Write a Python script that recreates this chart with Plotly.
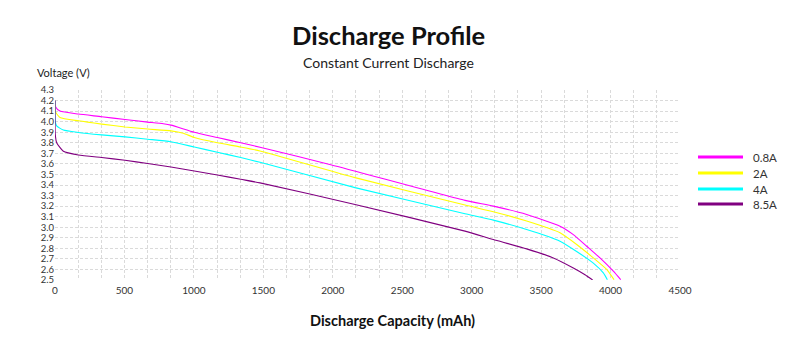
import plotly.graph_objects as go

series_names = ["0.8A", "2A", "4A", "8.5A"]
series_colors = ["#FF00FF", "#FFFF00", "#00FFFF", "#800080"]

cap_08 = [0, 5, 36, 168, 336, 504, 667, 780, 835, 1003, 1169, 1337, 1476, 1992, 2952, 3156, 3396, 3636, 3732, 3828, 3924, 4020, 4073]
volt_08 = [4.20, 4.14, 4.10, 4.072, 4.047, 4.02, 3.996, 3.98, 3.967, 3.90, 3.85, 3.80, 3.758, 3.59, 3.254, 3.20, 3.121, 3.01, 2.93, 2.82, 2.709, 2.583, 2.503]

cap_2 = [0, 5, 36, 168, 336, 504, 667, 835, 924, 1003, 1169, 1337, 1476, 2160, 2952, 3156, 3396, 3636, 3756, 3876, 3972, 4025]
volt_2 = [4.20, 4.09, 4.04, 4.008, 3.977, 3.95, 3.93, 3.913, 3.89, 3.85, 3.80, 3.76, 3.723, 3.47, 3.21, 3.147, 3.058, 2.947, 2.836, 2.709, 2.60, 2.503]

cap_4 = [0, 2, 12, 60, 168, 336, 504, 667, 835, 1003, 1169, 1337, 1476, 2160, 2952, 3156, 3396, 3636, 3756, 3876, 3948, 3977]
volt_4 = [4.20, 4.00, 3.96, 3.92, 3.898, 3.875, 3.856, 3.834, 3.81, 3.76, 3.71, 3.66, 3.615, 3.375, 3.128, 3.067, 2.978, 2.868, 2.77, 2.66, 2.567, 2.503]

cap_85 = [0, 2, 12, 60, 168, 336, 504, 667, 835, 1003, 1169, 1337, 1476, 2160, 2952, 3156, 3396, 3588, 3732, 3816, 3871]
volt_85 = [4.20, 3.88, 3.80, 3.72, 3.685, 3.66, 3.635, 3.603, 3.571, 3.533, 3.495, 3.454, 3.42, 3.216, 2.963, 2.884, 2.795, 2.709, 2.614, 2.55, 2.50]

caps = [cap_08, cap_2, cap_4, cap_85]
volts = [volt_08, volt_2, volt_4, volt_85]

x_ticks = [0, 500, 1000, 1500, 2000, 2500, 3000, 3500, 4000, 4500]
y_ticks = [round(2.5 + 0.1 * i, 1) for i in range(19)]

FONT = "Lato"
L, R, T, B = 55, 126, 90, 60
PW, PH = 806 - L - R, 340 - T - B


def px(x):
    return (x - L) / PW


def py(y):
    return (340 - B - y) / PH


fig = go.Figure()

for name, color, xs, ys in zip(series_names, series_colors, caps, volts):
    fig.add_trace(go.Scatter(x=xs, y=ys, mode="lines", name=name,
                             line=dict(color=color, width=1.1, shape="spline", smoothing=0.5),
                             showlegend=False, hoverinfo="skip"))

GRID = dict(showgrid=True, gridcolor="#dadada", griddash="3px,2px", gridwidth=1)

fig.update_layout(
    width=806, height=340,
    margin=dict(l=L, r=R, t=T, b=B),
    paper_bgcolor="white", plot_bgcolor="white",
    font=dict(family=FONT, color="#222", size=10),
    showlegend=False,
    xaxis=dict(range=[0, 4500], tickvals=x_ticks, ticktext=[str(v) for v in x_ticks],
               minor=dict(dtick=500 / 3, tick0=0, showgrid=True, gridcolor="#dadada", griddash="3px,2px"),
               zeroline=False, showline=False, ticks="", ticklabelstandoff=3,
               tickfont=dict(family=FONT, size=10, color="#333"), **GRID),
    yaxis=dict(range=[2.5, 4.3], tickvals=y_ticks, ticktext=["%.1f" % v for v in y_ticks],
               zeroline=False, showline=False, ticks="",
               tickfont=dict(family=FONT, size=9.5, color="#333"), **GRID),
)

fig.add_annotation(text="<b>Discharge Profile</b>", xref="paper", yref="paper",
                   x=px(388), y=py(35), xanchor="center", yanchor="middle",
                   showarrow=False, font=dict(family=FONT, size=25.5, color="#111"))
fig.add_annotation(text="Constant Current Discharge", xref="paper", yref="paper",
                   x=px(388), y=py(62), xanchor="center", yanchor="middle",
                   showarrow=False, font=dict(family=FONT, size=14, color="#222"))
fig.add_annotation(text="Voltage (V)", xref="paper", yref="paper",
                   x=px(35), y=py(73), xanchor="left", yanchor="middle",
                   showarrow=False, font=dict(family=FONT, size=11, color="#222"))
fig.add_annotation(text="<b>Discharge Capacity (mAh)</b>", xref="paper", yref="paper",
                   x=px(392), y=py(320), xanchor="center", yanchor="middle",
                   showarrow=False, font=dict(family=FONT, size=14.5, color="#111"))

# legend
leg_y = [157, 173, 189, 204]
for name, color, yy in zip(series_names, series_colors, leg_y):
    fig.add_shape(type="line", xref="paper", yref="paper",
                  x0=px(698), x1=px(743), y0=py(yy), y1=py(yy),
                  line=dict(color=color, width=3))
    fig.add_annotation(text=name, xref="paper", yref="paper",
                       x=px(751), y=py(yy), xanchor="left", yanchor="middle",
                       showarrow=False, font=dict(family=FONT, size=11.5, color="#333"))

fig.write_html("out.html")
